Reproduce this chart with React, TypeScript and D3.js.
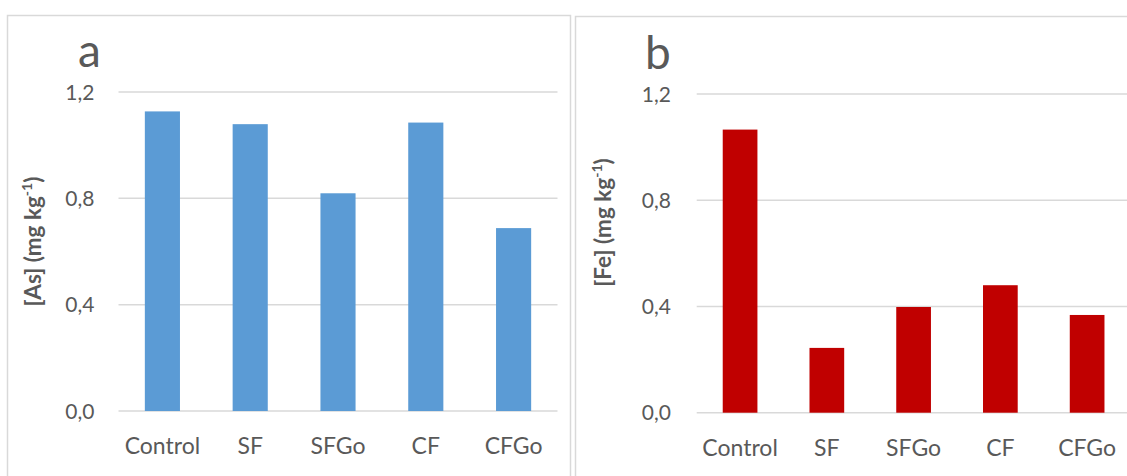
import React from "react";
import * as d3 from "d3";

const categories = ["Control", "SF", "SFGo", "CF", "CFGo"];
const asValues = [1.127, 1.079, 0.819, 1.085, 0.688];
const feValues = [1.066, 0.244, 0.398, 0.48, 0.368];
const yTicks = [0, 0.4, 0.8, 1.2];
const tickFormat = (v: number) => v.toFixed(1).replace(".", ",");

const FONT = "Lato, 'Open Sans', sans-serif";
const TEXT = "#595959";
const GRID = "#d9d9d9";

type PanelProps = {
  letter: string;
  element: string;
  values: number[];
  color: string;
  frame: { x: number; y: number; w: number; h: number };
  plot: { x0: number; x1: number; y0: number; y1: number };
  letterPos: { x: number; y: number };
  titlePos: { x: number; y: number };
  tickEnd: number;
};

function Panel(p: PanelProps) {
  const x = d3.scaleBand<string>().domain(categories).range([p.plot.x0, p.plot.x1]).paddingInner(0.6).paddingOuter(0.3);
  const y = d3.scaleLinear().domain([0, 1.2]).range([p.plot.y0, p.plot.y1]);
  return (
    <g>
      <rect x={p.frame.x} y={p.frame.y} width={p.frame.w} height={p.frame.h} fill="#fff" stroke={GRID} strokeWidth={1.5} />
      <text x={p.letterPos.x} y={p.letterPos.y} fontFamily={FONT} fontSize={46} fill={TEXT}>{p.letter}</text>
      {yTicks.map((t) => (
        <g key={t}>
          <line x1={p.plot.x0} x2={p.plot.x1} y1={y(t)} y2={y(t)} stroke={GRID} strokeWidth={1.5} />
          <text x={p.tickEnd} y={y(t)} dy="0.36em" textAnchor="end" fontFamily={FONT} fontSize={21} fill={TEXT}>{tickFormat(t)}</text>
        </g>
      ))}
      {categories.map((c, i) => (
        <rect key={c} x={x(c)} y={y(p.values[i])} width={x.bandwidth()} height={y(0) - y(p.values[i])} fill={p.color} />
      ))}
      {categories.map((c) => (
        <text key={c} x={(x(c) as number) + x.bandwidth() / 2} y={p.plot.y0 + 43} textAnchor="middle" fontFamily={FONT} fontSize={23} fill={TEXT}>{c}</text>
      ))}
      <text transform={`translate(${p.titlePos.x},${p.titlePos.y}) rotate(-90)`} textAnchor="middle" dy="0.35em" fontFamily={FONT} fontSize={22.5} fontWeight="bold" fill={TEXT}>
        [{p.element}] (mg kg<tspan fontSize={14} dy={-9}>-1</tspan><tspan dy={9}>)</tspan>
      </text>
    </g>
  );
}

export default function App() {
  return (
    <svg width={1127} height={476} style={{ position: "absolute", left: 0, top: 0, background: "#fff" }}>
      <rect x={0} y={0} width={1127} height={476} fill="#fff" />
      <Panel
        letter="a"
        element="As"
        values={asValues}
        color="#5B9BD5"
        frame={{ x: 7.5, y: 15.5, w: 563, h: 480 }}
        plot={{ x0: 118.5, x1: 557.5, y0: 411, y1: 92 }}
        letterPos={{ x: 78, y: 67 }}
        titlePos={{ x: 33, y: 241.5 }}
        tickEnd={94.5}
      />
      <Panel
        letter="b"
        element="Fe"
        values={feValues}
        color="#C00000"
        frame={{ x: 575.5, y: 16.5, w: 600, h: 480 }}
        plot={{ x0: 696.7, x1: 1130.5, y0: 412.7, y1: 94 }}
        letterPos={{ x: 645, y: 69 }}
        titlePos={{ x: 603, y: 222.5 }}
        tickEnd={671}
      />
    </svg>
  );
}
